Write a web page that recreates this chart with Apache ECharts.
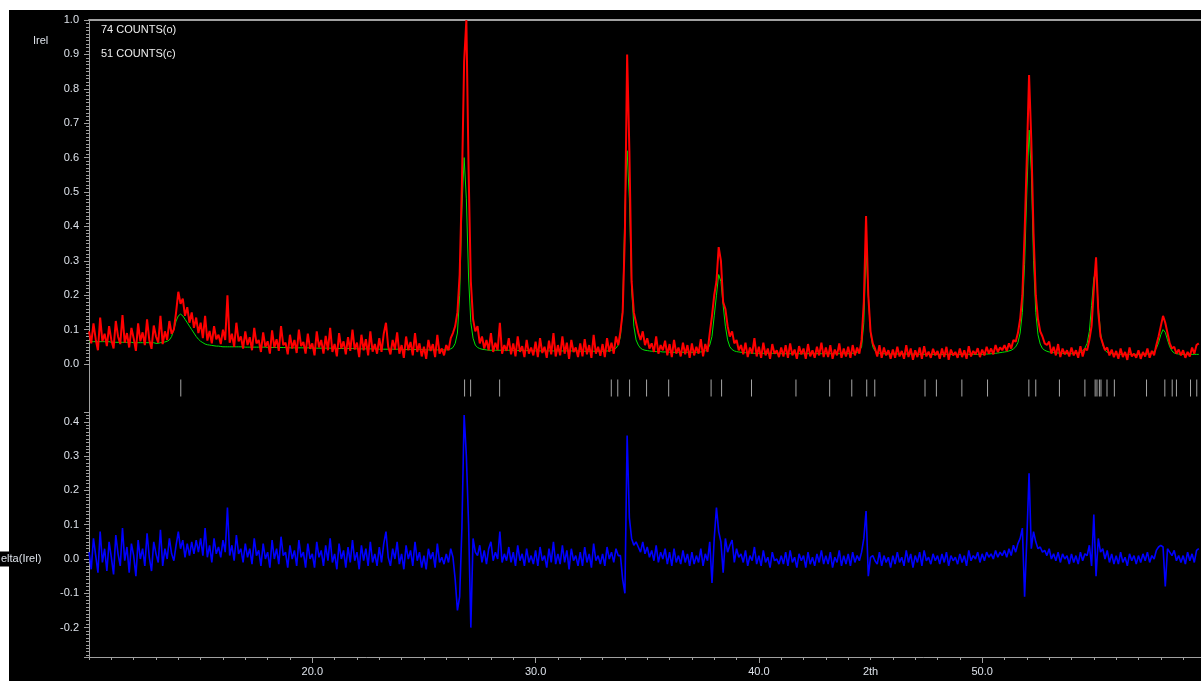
<!DOCTYPE html>
<html>
<head>
<meta charset="utf-8">
<script src="https://cdn.jsdelivr.net/npm/echarts@6/dist/echarts.min.js"></script>
<style>
html,body{margin:0;padding:0;background:#fff;}
#chart{width:1201px;height:681px;}
</style>
</head>
<body>
<div id="chart"></div>
<script>
// scan: start angle + step (2th, deg), one value per step
const start2th = 10.0
const step2th = 0.1

// intensities, in 1/1000 Irel
const obs = [
  95,60,118,72,40,135,66,88,52,110,
  70,45,125,80,58,142,62,90,48,105,
  75,38,118,66,92,55,130,70,44,112,
  80,62,140,58,95,70,125,88,100,150,
  210,175,190,140,165,120,150,105,135,90,
  120,75,140,68,96,60,110,72,85,58,
  100,70,200,62,88,50,120,66,80,45,
  95,55,78,40,105,60,70,35,92,50,
  66,30,98,48,72,38,110,55,62,28,
  85,45,70,32,100,52,64,30,88,44,
  60,25,95,48,70,30,82,40,105,35,
  58,22,90,45,66,28,78,38,100,42,
  62,20,85,40,72,25,95,36,58,30,
  75,35,88,120,50,28,70,42,92,30,
  55,18,80,40,64,25,90,35,60,22,
  50,15,70,38,58,20,85,30,45,25,
  55,40,75,90,110,150,260,520,880,1000,
  560,240,130,95,110,60,80,45,70,40,
  90,35,62,40,120,30,55,38,75,28,
  60,22,80,35,52,20,70,30,48,25,
  65,20,75,32,50,18,68,28,90,22,
  55,25,80,30,62,15,70,35,48,20,
  60,22,72,28,55,18,85,30,50,24,
  58,20,75,35,62,30,80,55,95,150,
  380,900,620,240,150,120,90,70,95,55,
  75,45,60,35,80,30,55,40,68,25,
  58,20,70,30,48,22,62,28,55,18,
  60,25,50,30,72,22,58,35,90,140,
  200,240,340,300,180,160,110,80,95,60,
  70,40,55,28,62,20,48,30,75,22,
  50,18,62,25,45,15,58,30,40,20,
  48,22,55,18,60,25,42,15,52,28,
  45,15,58,22,40,18,50,25,62,20,
  48,20,55,15,42,25,60,18,45,22,
  50,18,55,25,48,30,70,180,430,200,
  95,60,45,22,55,18,48,25,40,15,
  42,18,50,22,38,15,55,20,45,12,
  40,20,48,15,52,22,36,18,44,25,
  38,15,45,20,50,12,42,25,35,18,
  45,20,40,15,52,22,38,28,46,20,
  42,25,50,30,45,28,55,35,48,40,
  55,38,60,45,70,65,90,130,200,380,
  600,840,650,380,200,130,95,80,60,55,
  65,30,50,25,58,20,45,28,40,22,
  48,25,40,18,52,22,45,40,70,110,
  220,310,150,80,60,40,48,25,42,20,
  38,15,45,20,35,12,48,22,30,18,
  40,15,35,22,45,18,38,25,55,80,
  110,140,120,90,60,45,50,30,42,25,
  40,18,35,22,48,30,55,60
]

const calc = [
  65,65,65,65,65,65,65,65,65,65,
  63,63,63,63,63,63,63,63,63,63,
  62,62,62,62,62,62,62,62,62,62,
  60,60,62,62,64,66,70,80,100,125,
  140,145,140,130,120,110,100,90,80,72,
  66,62,58,56,55,54,53,52,52,51,
  50,50,50,50,50,50,50,50,50,50,
  49,49,49,49,49,49,49,49,49,49,
  48,48,48,48,48,48,48,48,48,48,
  47,47,47,47,47,47,47,47,47,47,
  46,46,46,46,46,46,46,46,46,46,
  45,45,45,45,45,45,45,45,45,45,
  44,44,44,44,44,44,44,44,44,44,
  43,43,43,43,43,43,43,43,43,43,
  42,42,42,42,42,42,42,42,42,42,
  41,41,41,41,41,41,41,41,41,41,
  41,42,44,48,60,90,200,450,600,480,
  250,120,75,55,48,45,43,42,41,40,
  40,40,40,40,40,40,40,40,40,40,
  39,39,39,39,39,39,39,39,39,39,
  38,38,38,38,38,38,38,38,38,38,
  38,38,38,38,38,38,38,38,38,38,
  37,37,37,37,37,37,37,37,37,37,
  37,37,38,38,40,42,46,55,80,160,
  450,620,480,220,110,70,55,46,42,40,
  39,38,37,37,36,36,36,35,35,35,
  34,34,34,34,34,34,34,34,34,34,
  34,34,34,35,35,36,38,42,55,80,
  140,200,260,240,170,110,70,50,42,38,
  36,35,34,33,33,32,32,32,31,31,
  31,31,31,31,31,31,31,31,31,31,
  30,30,30,30,30,30,30,30,30,30,
  30,30,30,30,30,30,30,30,30,30,
  30,30,30,30,30,30,30,30,30,30,
  30,30,31,32,34,38,50,120,330,200,
  90,50,38,33,31,30,30,29,29,29,
  29,29,29,29,29,29,29,29,29,29,
  28,28,28,28,28,28,28,28,28,28,
  28,28,28,28,28,28,28,28,28,28,
  28,28,28,28,28,28,28,28,28,28,
  28,28,29,29,30,30,31,32,33,34,
  35,36,38,40,44,50,62,90,150,290,
  500,680,560,300,150,85,58,45,40,37,
  35,34,33,32,32,31,31,30,30,30,
  30,30,31,32,34,38,46,60,95,170,
  250,270,170,90,55,40,34,31,30,29,
  28,28,28,28,28,28,28,28,28,28,
  28,28,28,29,29,30,32,36,45,62,
  85,100,92,70,50,38,32,30,29,28,
  28,28,28,28,28,28,28,28
]

const delta = [
  20,-30,60,10,-40,80,-10,30,-35,50,
  5,-45,70,15,-20,90,-5,35,-40,45,
  10,-50,55,0,30,-20,75,5,-35,50,
  15,-10,85,-20,30,0,60,15,-5,40,
  80,30,55,5,45,10,50,15,55,20,
  60,10,90,5,40,-10,60,15,35,5,
  55,20,150,10,40,-5,70,15,30,-10,
  45,5,30,-15,60,10,25,-20,45,0,
  20,-25,55,0,30,-15,65,10,20,-25,
  40,0,25,-20,55,5,20,-25,45,0,
  15,-25,50,5,25,-20,40,-5,60,-10,
  15,-30,45,0,25,-25,35,-10,55,-5,
  20,-30,40,-5,30,-20,50,-10,15,-20,
  35,-10,45,80,5,-20,30,0,50,-15,
  15,-30,40,0,25,-20,50,-5,20,-25,
  10,-30,30,0,20,-25,45,-10,5,-15,
  15,-10,30,5,-60,-150,-110,90,420,300,
  100,-200,60,20,10,40,-10,25,-15,30,
  50,-5,20,0,80,-10,15,-5,35,-10,
  20,-20,40,-5,15,-20,30,-10,10,-15,
  25,-20,35,-5,10,-25,30,-10,50,-15,
  15,-15,40,-10,25,-30,30,-5,10,-20,
  20,-20,35,-10,15,-25,45,-5,10,-15,
  15,-20,35,0,20,-10,30,10,10,-60,
  -100,360,120,60,40,50,35,20,50,15,
  35,5,25,-5,40,-10,20,0,30,-15,
  20,-20,30,-10,10,-15,25,-10,15,-20,
  20,-15,10,-10,30,-20,15,-5,50,-70,
  60,150,80,50,-40,60,20,40,55,-10,
  30,5,15,-10,25,-20,10,-5,35,-15,
  10,-20,25,-10,5,-25,20,-5,0,-15,
  10,-15,20,-20,25,-10,5,-25,15,-5,
  10,-25,20,-15,5,-20,15,-10,25,-15,
  10,-15,20,-25,5,-10,25,-20,10,-15,
  15,-20,20,-10,10,-5,20,60,140,-50,
  5,10,-5,-15,20,-20,10,-10,5,-25,
  10,-15,20,-10,5,-20,25,-10,15,-25,
  10,-10,20,-20,25,-5,5,-15,15,-5,
  10,-15,15,-10,20,-20,10,-5,5,-15,
  15,-10,10,-20,25,-5,10,0,20,-10,
  15,-5,20,5,15,0,25,5,20,10,
  25,5,30,10,40,20,45,60,90,-110,
  60,250,30,80,50,30,35,20,25,10,
  30,0,15,-5,20,-10,15,0,10,-15,
  15,-10,10,-15,20,-5,15,10,40,-20,
  130,-50,60,20,30,0,25,-10,15,-15,
  10,-15,20,-10,5,-20,15,-5,10,-15,
  10,-10,15,-5,20,-10,10,0,25,35,
  40,35,-80,30,20,10,25,-5,10,-10,
  10,-15,20,-5,15,-10,25,30
]

// reflection positions (2th)
const reflections = [
  14.11, 26.82, 27.09, 28.39, 33.39, 33.68, 34.21, 34.97, 35.96, 37.86,
  38.33, 39.67, 41.66, 43.17, 44.16, 44.83, 45.19, 47.44, 47.95, 49.09,
  50.24, 52.09, 52.40, 53.46, 54.60, 55.06, 55.14, 55.25, 55.32, 55.59,
  55.92, 57.36, 58.18, 58.51, 58.70, 59.33, 59.61
]

const xLabelValues = [20, 30, 40, 45, 50]
const xLabelText = {20: '20.0', 30: '30.0', 40: '40.0', 45: '2th', 50: '50.0'}
const xMajorTicks = [20, 30, 40, 50]

const xMin = 10
const xMax = 59.8

const axisGray = '#a0a0a0'
const labelColor = '#dde2ea'
const fontFamily = 'Liberation Sans, Arial, sans-serif'

function toPairs(arr){
  return arr.map((v, i) => [+(start2th + i * step2th).toFixed(2), v / 1000])
}

const chart = echarts.init(document.getElementById('chart'))

const lineAxis = (extra) => Object.assign({
  axisLine: {show: true, onZero: false, lineStyle: {color: axisGray, width: 1}},
  splitLine: {show: false}
}, extra)

let option = {
  backgroundColor: '#000',
  animation: false,
  grid: [
    {left: 89, right: 0, top: 20, height: 344},   // Irel
    {left: 89, right: 0, top: 364, height: 48},   // reflection marks
    {left: 89, right: 0, top: 412, bottom: 24},   // delta
    {left: 89, right: 0, top: 412, bottom: 24}    // major ticks + labels
  ],
  xAxis: [
    lineAxis({gridIndex: 0, type: 'value', position: 'top', min: xMin, max: xMax,
      axisLine: {show: true, onZero: false, lineStyle: {color: axisGray, width: 2}},
      axisTick: {show: false}, axisLabel: {show: false}}),
    {gridIndex: 1, type: 'value', min: xMin, max: xMax, show: false},
    lineAxis({gridIndex: 2, type: 'value', min: xMin, max: xMax, interval: 1,
      axisTick: {show: true, length: 3, lineStyle: {color: axisGray}},
      axisLabel: {show: false}}),
    {gridIndex: 3, type: 'value', min: xMin, max: xMax,
      axisLine: {show: false, onZero: false},
      splitLine: {show: false},
      axisTick: {show: true, customValues: xMajorTicks, length: 6, lineStyle: {color: axisGray}},
      axisLabel: {
        customValues: xLabelValues,
        margin: 9,
        color: labelColor,
        fontSize: 11,
        fontFamily: fontFamily,
        formatter: v => xLabelText[v] || ''
      }}
  ],
  yAxis: [
    lineAxis({gridIndex: 0, type: 'value', min: 0, max: 1, interval: 0.1,
      axisTick: {show: true, length: 5, lineStyle: {color: axisGray}},
      minorTick: {show: true, splitNumber: 10, length: 3, lineStyle: {color: axisGray}},
      axisLabel: {color: labelColor, fontSize: 11, fontFamily: fontFamily, margin: 10,
        formatter: v => v.toFixed(1)}}),
    lineAxis({gridIndex: 1, type: 'value', min: 0, max: 1,
      axisTick: {show: false}, axisLabel: {show: false}}),
    lineAxis({gridIndex: 2, type: 'value', min: -0.2857, max: 0.4286, splitNumber: 7,
      axisTick: {show: true, length: 5, lineStyle: {color: axisGray}},
      minorTick: {show: true, splitNumber: 10, length: 3, lineStyle: {color: axisGray}},
      axisLabel: {color: labelColor, fontSize: 11, fontFamily: fontFamily, margin: 10,
        showMinLabel: false, showMaxLabel: false,
        formatter: v => v.toFixed(1)}}),
    {gridIndex: 3, type: 'value', min: -0.2857, max: 0.4286, show: false}
  ],
  series: [
    {
      name: 'calc', type: 'line', xAxisIndex: 0, yAxisIndex: 0,
      data: toPairs(calc), showSymbol: false, z: 2,
      lineStyle: {color: '#00e000', width: 1}
    },
    {
      name: 'obs', type: 'line', xAxisIndex: 0, yAxisIndex: 0,
      data: toPairs(obs), showSymbol: false, z: 3,
      lineStyle: {color: '#ff0000', width: 2}
    },
    {
      name: 'hkl', type: 'scatter', xAxisIndex: 1, yAxisIndex: 1,
      data: reflections.map(x => [x, 0.5]),
      symbol: 'rect', symbolSize: [1, 17],
      itemStyle: {color: '#cfcfcf'}
    },
    {
      name: 'delta', type: 'line', xAxisIndex: 2, yAxisIndex: 2,
      data: toPairs(delta), showSymbol: false,
      lineStyle: {color: '#0000ff', width: 1.6}
    }
  ],
  graphic: [
    {type: 'rect', shape: {x: 0, y: 0, width: 1201, height: 10}, style: {fill: '#fff'}, silent: true},
    {type: 'rect', shape: {x: 0, y: 0, width: 9, height: 681}, style: {fill: '#fff'}, silent: true},
    {type: 'text', x: 33, y: 41, style: {text: 'Irel', fill: labelColor, font: '11px ' + fontFamily, verticalAlign: 'middle'}},
    {type: 'text', x: 101, y: 30, style: {text: '74 COUNTS(o)', fill: '#eeeeee', font: '11px ' + fontFamily, verticalAlign: 'middle'}},
    {type: 'text', x: 101, y: 54, style: {text: '51 COUNTS(c)', fill: '#eeeeee', font: '11px ' + fontFamily, verticalAlign: 'middle'}},
    {type: 'text', x: 0, y: 559, z: 10, style: {text: 'elta(Irel)', fill: labelColor, font: '11px ' + fontFamily,
      verticalAlign: 'middle', backgroundColor: '#000', padding: [2, 1, 2, 1]}}
  ]
}

chart.setOption(option)
</script>
</body>
</html>
